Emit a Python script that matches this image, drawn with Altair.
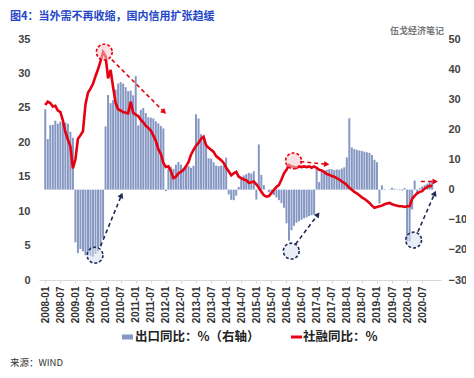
import math
import json
import altair as alt
import pandas as pd

# ---------------- data ----------------
months = pd.period_range("2008-01", "2020-11", freq="M").strftime("%Y-%m").tolist()
tick_labels = [m for m in months if m[5:] in ("01", "07")][:26]

export_yoy = [  # 出口同比 %（右轴）
    26.7, 16.8, 21.4, 21.5, 22.9, 21.9, 22.6, 22.4, 22.3, 21.9, 19.2, 17.2,
    -17.5, -21.1, -19.7, -20.5, -21.8, -21.8, -22.0, -22.3, -21.3, -20.5, -18.8, -16.0,
    21.0, 31.4, 28.7, 29.7, 33.2, 35.2, 35.7, 35.2, 34.0, 32.7, 32.9, 31.3,
    37.7, 21.3, 26.5, 27.1, 25.4, 24.0, 23.9, 23.6, 22.7, 22.0, 21.1, 20.3,
    -0.5, 6.9, 7.6, 6.9, 8.3, 9.2, 8.3, 7.1, 7.4, 7.8, 7.3, 7.9,
    25.0, 23.6, 18.4, 17.4, 14.4, 10.4, 10.3, 9.1, 8.0, 7.8, 8.0, 7.9,
    10.6, -1.6, -3.4, -3.5, -2.0, 0.9, 3.6, 4.7, 5.1, 5.6, 5.3, 6.1,
    -3.3, 15.0, 4.9, 1.5, 0.0, -0.9, -1.2, -1.8, -2.6, -3.5, -4.5, -6.0,
    -11.2, -17.0, -13.5, -12.0, -11.0, -10.5, -10.0, -9.5, -9.2, -8.8, -8.5, -8.2,
    7.0, 2.5, 6.0, 6.2, 6.6, 6.8, 6.8, 6.5, 6.7, 6.6, 7.0, 7.4,
    10.7, 23.7, 14.0, 13.5, 13.2, 13.0, 12.8, 12.6, 12.4, 12.2, 11.5, 9.9,
    9.1, -4.6, 1.4, 0.2, 0.0, 0.1, 0.6, 0.3, -0.1, -0.2, -0.3, 0.5,
    -17.2, -17.2, -6.6, 3.0, -1.0, 0.5, 1.0, 1.5, 2.0, 2.5, 3.0,
]

tsf_yoy = [  # 社融同比 %
    25.4, 25.9, 25.7, 25.2, 25.3, 24.6, 24.4, 23.2, 21.5, 20.4, 19.4, 16.2,
    17.5, 20.5, 21.0, 21.6, 25.5, 27.2, 27.8, 28.5, 29.6, 30.6, 31.8, 33.1,
    32.5, 29.3, 30.5, 28.0, 25.7, 24.8, 24.6, 24.4, 24.3, 24.2, 25.9, 24.3,
    24.0, 23.8, 23.3, 22.9, 22.4, 22.1, 21.7, 21.0, 20.2, 19.0, 18.3, 17.0,
    16.4, 16.5, 15.8, 14.8, 15.0, 15.5, 15.7, 16.0, 16.5, 17.1, 18.2, 18.9,
    19.5, 19.9, 20.5, 20.8, 19.6, 19.2, 18.9, 18.6, 18.0, 17.7, 17.4, 17.0,
    16.3, 15.8, 15.2, 15.5, 15.7, 15.0, 14.8, 14.6, 14.5, 14.1, 14.2, 14.3,
    13.9, 13.4, 12.8, 12.3, 12.1, 12.2, 12.6, 13.1, 13.5, 13.8, 14.6, 15.5,
    16.0, 16.7, 16.5, 16.4, 16.3, 16.5, 16.4, 16.5, 16.4, 16.5, 16.3, 16.5,
    16.3, 16.0, 15.9, 15.7, 15.4, 15.3, 15.1, 15.0, 14.8, 14.6, 14.3, 14.1,
    13.8, 13.4, 13.1, 12.8, 12.6, 12.3, 12.0, 11.8, 11.5, 11.2, 10.8, 10.5,
    10.6, 10.7, 10.8, 11.0, 11.1, 11.2, 11.0, 10.9, 10.8, 10.7, 10.7, 10.6,
    10.7, 10.7, 11.8, 12.2, 12.6, 12.8, 12.9, 13.3, 13.5, 13.7, 13.6,
]

# annotation anchors (month index, left-axis value)
red_circle_x = [23.5, 98.8]
red_circle_v = [33.1, 17.3]
navy_circle_x = [19.8, 97.9, 146.6]
navy_circle_v = [3.6, 4.2, 5.8]
red_arrow_x1 = [26.5, 101.5, 149.5]
red_arrow_v1 = [32.0, 17.2, 14.3]
red_arrow_x2 = [47.3, 112.0, 155.2]
red_arrow_v2 = [24.4, 16.8, 14.3]
navy_arrow_x1 = [22.0, 99.6, 148.3]
navy_arrow_v1 = [4.9, 5.2, 7.0]
navy_arrow_x2 = [30.3, 108.5, 155.0]
navy_arrow_v2 = [12.3, 9.5, 12.6]

# ---------------- styles ----------------
W, H = 402, 241
XDOM = [-0.5, 155.5]
YL = [0, 35]
YR = [-30, 50]
RED = "#e60012"
NAVY = "#1f2a55"
BAR = "#8597c2"
CN = "Noto Sans CJK SC"
NUM = "Liberation Sans"

df = pd.DataFrame({"idx": list(range(len(months))), "month": months,
                   "export": export_yoy, "tsf": tsf_yoy})

label_expr = json.dumps(tick_labels) + "[round(datum.value / 6)]"
X_AX = alt.Axis(values=list(range(0, 151, 6)), labelExpr=label_expr, labelAngle=-90,
                labelFont=NUM, labelFontSize=10, labelColor="#333333", labelFontWeight="bold",
                domainColor="#d8d8d8", tickColor="#d8d8d8", tickSize=3, labelPadding=3,
                grid=False, title=None)
XSC = alt.Scale(domain=XDOM, nice=False, zero=False)


def xenc(field):
    return alt.X(f"{field}:Q", scale=XSC, axis=X_AX)


YL_AX = alt.Axis(orient="left", values=list(range(0, 36, 5)), domain=False, ticks=False,
                 grid=False, labelFont=NUM, labelFontSize=11, labelColor="#444444",
                 labelFontWeight="bold", labelPadding=9, title=None)
YL_SC = alt.Scale(domain=YL, nice=False, zero=False)


def ylenc(field):
    return alt.Y(f"{field}:Q", scale=YL_SC, axis=YL_AX)


bars = alt.Chart(df).mark_bar(size=2, color=BAR).encode(
    x=xenc("idx"),
    y=alt.Y("export:Q", scale=alt.Scale(domain=YR, nice=False),
            axis=alt.Axis(orient="right", values=list(range(-30, 51, 10)), domain=False,
                          ticks=False, grid=False, labelFont=NUM, labelFontSize=11,
                          labelColor="#444444", labelFontWeight="bold", labelPadding=7,
                          title=None)),
)

line = alt.Chart(df).mark_line(color=RED, strokeWidth=2.6).encode(
    x=xenc("idx"), y=ylenc("tsf"))

sx = W / (XDOM[1] - XDOM[0])
sy = H / (YL[1] - YL[0])


def arrow_layers(x1, v1, x2, v2, color):
    ang = [math.degrees(math.atan2(-(b2 - b1) * sy, (a2 - a1) * sx)) % 360
           for a1, b1, a2, b2 in zip(x1, v1, x2, v2)]
    d = pd.DataFrame({"x1": x1, "v1": v1, "x2": x2, "v2": v2, "ang": ang})
    seg = alt.Chart(d).mark_rule(color=color, strokeWidth=1.6, strokeDash=[4, 3]).encode(
        x=xenc("x1"), x2="x2:Q", y=ylenc("v1"), y2="v2:Q")
    head = alt.Chart(d).mark_point(shape="triangle-right", filled=True, opacity=1,
                                   color=color, size=38).encode(
        x=xenc("x2"), y=ylenc("v2"), angle=alt.Angle("ang:Q", scale=None))
    return [seg, head]


def circle_layer(xs, vs, color, fill):
    d = pd.DataFrame({"cx": xs, "cv": vs})
    return alt.Chart(d).mark_point(shape="circle", size=250, stroke=color, strokeWidth=1.6,
                                   strokeDash=[3, 2], fill=fill, fillOpacity=0.55,
                                   opacity=1, filled=False).encode(
        x=xenc("cx"), y=ylenc("cv"))


left = alt.layer(
    line,
    circle_layer(red_circle_x, red_circle_v, RED, "#f6c9cc"),
    circle_layer(navy_circle_x, navy_circle_v, NAVY, "#d9e1f0"),
    *arrow_layers(red_arrow_x1, red_arrow_v1, red_arrow_x2, red_arrow_v2, RED),
    *arrow_layers(navy_arrow_x1, navy_arrow_v1, navy_arrow_x2, navy_arrow_v2, NAVY),
)

one = pd.DataFrame({"a": [0]})


def txt(text, x, y, size, color, weight="normal", font=CN):
    return alt.Chart(one).mark_text(text=text, align="left", baseline="middle",
                                    fontSize=size, color=color, fontWeight=weight,
                                    font=font).encode(x=alt.value(x), y=alt.value(y))


# positions relative to plot origin (page x=39, y=39)
title = txt("图4：当外需不再收缩，国内信用扩张趋缓", -29, -22, 11, "#2446c8", "bold")
water = txt("伍戈经济笔记", 351, -8, 9, "#777777", "bold")
leg1 = txt("出口同比：%（右轴）", 96, 298, 12.5, "#222222", "bold")
leg2 = txt("社融同比：%", 264, 298, 12.5, "#222222", "bold")
source = txt("来源：WIND", -29, 324, 9.5, "#333333")
sw1 = alt.Chart(one).mark_rect(color=BAR).encode(
    x=alt.value(83), x2=alt.value(94), y=alt.value(295.5), y2=alt.value(300.5))
sw2 = alt.Chart(one).mark_rule(color=RED, strokeWidth=3).encode(
    x=alt.value(252), x2=alt.value(263), y=alt.value(298))

chart = alt.layer(bars, left).resolve_scale(y="independent")
chart = alt.layer(chart, title, water, leg1, leg2, source, sw1, sw2).properties(
    width=W, height=H,
    autosize=alt.AutoSizeParams(type="none"),
    padding={"left": 31, "top": 31, "right": 25, "bottom": 90},
    background="white",
).configure_view(stroke=None)

chart.save("out.html", embed_options={"renderer": "svg", "actions": False})
